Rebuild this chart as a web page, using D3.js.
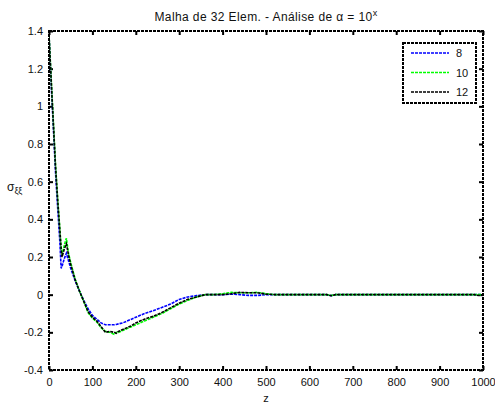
<!DOCTYPE html>
<html>
<head>
<meta charset="utf-8">
<script src="https://cdn.jsdelivr.net/npm/d3@7"></script>
<style>
  body { margin: 0; background: #fff; }
  svg { display: block; }
  text { font-family: "Liberation Sans", Arial, sans-serif; fill: #111; }
</style>
</head>
<body>
<svg id="chart" width="495" height="406"></svg>
<script>
// ---- data ----
const zValues = [0,5,10,15,20,25,28,30,35,40,45,50,60,70,80,90,100,110,120,130,140,150,155,160,170,180,190,200,220,240,260,280,300,320,340,360,380,400,420,440,460,480,500,520,550,600,640,650,660,700,800,900,980,990,1000];
const series8  = [1.38,1.12,0.89,0.65,0.46,0.28,0.14,0.15,0.19,0.22,0.18,0.14,0.075,0.02,-0.03,-0.075,-0.11,-0.13,-0.15,-0.16,-0.16,-0.16,-0.158,-0.155,-0.15,-0.14,-0.13,-0.12,-0.10,-0.085,-0.068,-0.05,-0.025,-0.012,-0.005,0,0,0,0.003,0,-0.004,-0.004,0,0,0,0,0,-0.005,0,0,0,0,0,0,0];
const series10 = [1.38,1.15,0.92,0.69,0.51,0.35,0.25,0.21,0.26,0.30,0.22,0.17,0.085,0.02,-0.035,-0.095,-0.125,-0.145,-0.175,-0.195,-0.20,-0.21,-0.20,-0.20,-0.19,-0.18,-0.17,-0.16,-0.14,-0.12,-0.10,-0.075,-0.05,-0.03,-0.012,0,0,0.005,0.012,0.01,0.01,0.012,0.005,0,0,0,0,-0.004,0,0,0,0,0,0,0];
const series12 = [1.38,1.14,0.91,0.68,0.50,0.34,0.24,0.20,0.24,0.27,0.21,0.16,0.08,0.02,-0.035,-0.09,-0.12,-0.14,-0.17,-0.20,-0.195,-0.20,-0.205,-0.195,-0.185,-0.175,-0.165,-0.15,-0.13,-0.115,-0.095,-0.07,-0.045,-0.025,-0.012,0,0,0,0.005,0.012,0.01,0.01,0.003,0,0,0,0,-0.006,0,0,0,0,0,-0.004,0];
const seriesNames = ["8","10","12"];
const seriesColors = ["#0000ff","#00ff00","#000000"];
const xTicks = [0,100,200,300,400,500,600,700,800,900,1000];
const yTicks = [-0.4,-0.2,0,0.2,0.4,0.6,0.8,1,1.2,1.4];

// ---- layout ----
const svg = d3.select("#chart");
const L = 49, R = 483, T = 31, B = 370;
const x = d3.scaleLinear().domain([0,1000]).range([L,R]);
const y = d3.scaleLinear().domain([-0.4,1.4]).range([B,T]);
const dash = "3,1";

svg.append("defs").append("clipPath").attr("id","clip")
  .append("rect").attr("x",L).attr("y",T).attr("width",R-L).attr("height",B-T);

// axes with inward ticks
const fmt = d => String(+d.toFixed(1));
const gB = svg.append("g").attr("transform",`translate(0,${B})`)
  .call(d3.axisBottom(x).tickValues(xTicks).tickSizeInner(-4).tickSizeOuter(0).tickPadding(8).tickFormat(d3.format("d")));
const gT = svg.append("g").attr("transform",`translate(0,${T})`)
  .call(d3.axisTop(x).tickValues(xTicks).tickSizeInner(-4).tickSizeOuter(0).tickFormat(""));
const gL = svg.append("g").attr("transform",`translate(${L},0)`)
  .call(d3.axisLeft(y).tickValues(yTicks).tickSizeInner(-4).tickSizeOuter(0).tickPadding(6).tickFormat(fmt));
const gR = svg.append("g").attr("transform",`translate(${R},0)`)
  .call(d3.axisRight(y).tickValues(yTicks).tickSizeInner(-4).tickSizeOuter(0).tickFormat(""));
[gB,gT,gL,gR].forEach(g => {
  g.select(".domain").remove();
  g.selectAll(".tick line").attr("stroke","#000").attr("stroke-width",2);
  g.selectAll(".tick text").attr("font-size",11).attr("font-family","Liberation Sans, Arial, sans-serif").attr("fill","#111");
});

// lines
const line = d3.line().x((d,i)=>x(zValues[i])).y(d=>y(d));
const gLines = svg.append("g").attr("clip-path","url(#clip)");
[series8, series10, series12].forEach((s,k) => {
  gLines.append("path").datum(s).attr("d",line)
    .attr("fill","none").attr("stroke",seriesColors[k]).attr("stroke-width",1.6)
    .attr("stroke-dasharray","3,1");
});

// frame
svg.append("rect").attr("x",L).attr("y",T).attr("width",R-L).attr("height",B-T)
  .attr("fill","none").attr("stroke","#000").attr("stroke-width",2).attr("stroke-dasharray",dash);

// title
const title = svg.append("text").attr("x",(L+R)/2).attr("y",21).attr("text-anchor","middle")
  .attr("font-size",12).attr("letter-spacing",0.4);
title.append("tspan").text("Malha de 32 Elem. - Análise de α = 10");
title.append("tspan").attr("dy",-5).attr("font-size",9).text("x");

// x label
svg.append("text").attr("x",(L+R)/2).attr("y",402).attr("text-anchor","middle").attr("font-size",11).text("z");

// y label
const yl = svg.append("text").attr("x",7).attr("y",191).attr("font-size",12);
yl.append("tspan").text("σ");
yl.append("tspan").attr("dy",3).attr("font-size",9).text("ξξ");

// legend
const lg = svg.append("g");
lg.append("rect").attr("x",403).attr("y",43).attr("width",73).attr("height",60)
  .attr("fill","#fff").attr("stroke","#000").attr("stroke-width",2).attr("stroke-dasharray",dash);
seriesNames.forEach((n,k) => {
  const yy = 53 + k*19.5;
  lg.append("line").attr("x1",411).attr("x2",449).attr("y1",yy).attr("y2",yy)
    .attr("stroke",seriesColors[k]).attr("stroke-width",1.6).attr("stroke-dasharray","3,1");
  lg.append("text").attr("x",456).attr("y",yy+4).attr("font-size",11).text(n);
});
</script>
</body>
</html>
